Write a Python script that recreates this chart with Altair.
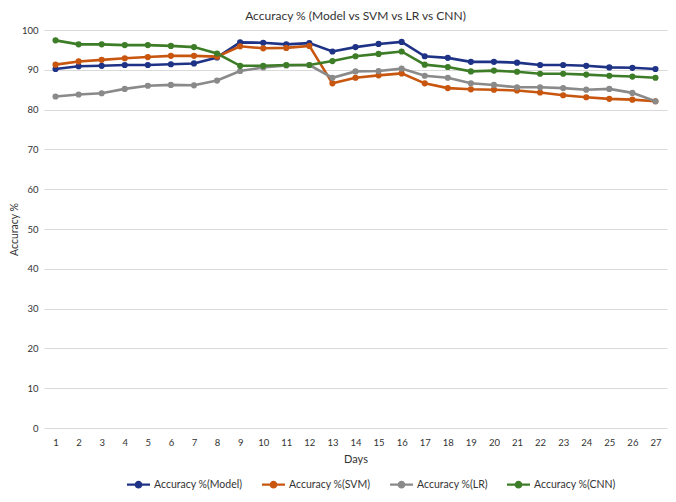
import altair as alt
import pandas as pd

days = list(range(1, 28))
model = [90.2, 90.9, 91.0, 91.2, 91.2, 91.4, 91.6, 93.1, 96.9, 96.8, 96.4, 96.7, 94.6, 95.7, 96.5, 97.0,
         93.4, 93.0, 92.0, 92.0, 91.8, 91.2, 91.2, 91.0, 90.6, 90.5, 90.2]
svm = [91.3, 92.1, 92.5, 92.9, 93.2, 93.5, 93.5, 93.3, 95.9, 95.4, 95.5, 96.0, 86.6, 88.0, 88.6, 89.1,
       86.6, 85.4, 85.1, 85.0, 84.8, 84.3, 83.6, 83.1, 82.7, 82.5, 82.1]
lr = [83.3, 83.8, 84.1, 85.2, 86.0, 86.2, 86.1, 87.3, 89.7, 90.6, 91.1, 91.2, 88.0, 89.6, 89.7, 90.3,
      88.5, 88.0, 86.6, 86.2, 85.6, 85.6, 85.4, 85.0, 85.2, 84.2, 82.1]
cnn = [97.4, 96.4, 96.4, 96.2, 96.2, 96.0, 95.7, 94.1, 91.0, 91.0, 91.2, 91.2, 92.2, 93.4, 94.0, 94.6,
       91.3, 90.7, 89.6, 89.8, 89.5, 89.0, 89.0, 88.8, 88.5, 88.3, 88.0]

series_names = ["Accuracy %(Model)", "Accuracy %(SVM)", "Accuracy %(LR)", "Accuracy %(CNN)"]
series_colors = ["#1f3386", "#c8560f", "#8a8a8a", "#3d7d27"]
y_ticks = [0, 10, 20, 30, 40, 50, 60, 70, 80, 90, 100]

rows = []
for name, vals in zip(series_names, [model, svm, lr, cnn]):
    for d, v in zip(days, vals):
        rows.append({"Day": d, "Accuracy": v, "Series": name})
df = pd.DataFrame(rows)

font = "Lato"

legend_symbol = "M-2.3,0 L2.3,0 M-0.55,0 A0.55,0.55 0 1,1 0.55,0 A0.55,0.55 0 1,1 -0.55,0 Z"

color = alt.Color(
    "Series:N",
    scale=alt.Scale(domain=series_names, range=series_colors),
    legend=alt.Legend(
        title=None, orient="none", direction="horizontal",
        legendX=88, legendY=448,
        symbolType=legend_symbol, symbolSize=100, symbolStrokeWidth=2.2,
        labelFont=font, labelFontSize=10.5, labelColor="#333333",
        labelOffset=9, columnPadding=14, labelLimit=200,
    ),
)

base = alt.Chart(df).encode(
    x=alt.X("Day:O", title="Days",
            axis=alt.Axis(labelAngle=0, ticks=False, domain=False, grid=False,
                          labelFont=font, labelFontSize=9.5, labelColor="#333333",
                          labelPadding=9, titleFont=font, titleFontSize=11,
                          titleFontWeight="normal", titleColor="#333333", titlePadding=7)),
    y=alt.Y("Accuracy:Q", title="Accuracy %",
            scale=alt.Scale(domain=[0, 100], nice=False),
            axis=alt.Axis(values=y_ticks, ticks=False, domain=False, grid=True,
                          gridColor="#d9d9d9", gridWidth=1,
                          labelFont=font, labelFontSize=9.5, labelColor="#333333",
                          labelPadding=6, titleFont=font, titleFontSize=10.5,
                          titleFontWeight="normal", titleColor="#333333", titlePadding=2)),
    color=color,
    order=alt.Order("Day:Q"),
)

lines = base.mark_line(strokeWidth=2.6)
points = base.mark_circle(size=38, opacity=1)

chart = alt.layer(lines, points).properties(
    width=623, height=398,
    title=alt.TitleParams("Accuracy % (Model vs SVM vs LR vs CNN)", font=font, fontSize=12,
                          fontWeight="normal", color="#333333", offset=2),
    autosize=alt.AutoSizeParams(type="none"),
    padding={"left": 36, "top": 22, "right": 1, "bottom": 66},
).configure_view(stroke=None)

chart.save("out.html", embed_options={"renderer": "svg", "actions": False})
